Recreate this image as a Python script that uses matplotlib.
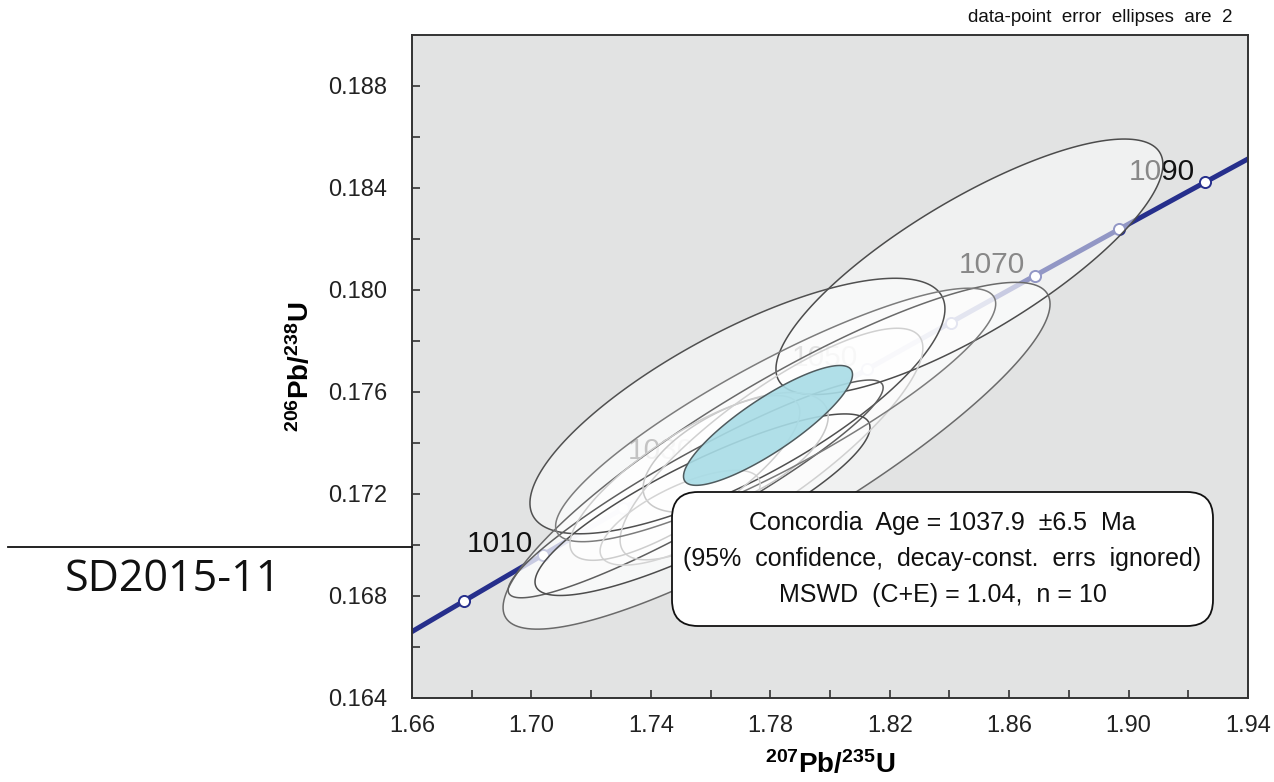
import numpy as np
import matplotlib
matplotlib.use('Agg')
import matplotlib.pyplot as plt
from matplotlib.patches import Polygon, FancyBboxPatch
from matplotlib.lines import Line2D

plt.rcParams['font.family'] = ['Liberation Sans', 'DejaVu Sans']
plt.rcParams['mathtext.fontset'] = 'custom'
plt.rcParams['mathtext.rm'] = 'Liberation Sans'
plt.rcParams['mathtext.bf'] = 'Liberation Sans:bold'

# U-Pb analyses: 207Pb/235U, 2s, 206Pb/238U, 2s, error correlation
pb207_u235 = [1.8467, 1.7690, 1.7821, 1.7550, 1.7573, 1.7684, 1.7804, 1.7818, 1.7498, 1.7514]
err207 = [0.0648, 0.0695, 0.0916, 0.0628, 0.0561, 0.0310, 0.0507, 0.0737, 0.0268, 0.0385]
pb206_u238 = [0.18091, 0.17545, 0.17350, 0.17220, 0.17158, 0.17363, 0.17396, 0.17510, 0.17107, 0.17263]
err206 = [0.00501, 0.00501, 0.00680, 0.00427, 0.00356, 0.00235, 0.00454, 0.00497, 0.00186, 0.00323]
rho = [0.80, 0.76, 0.875, 0.93, 0.85, 0.6, 0.83, 0.877, 0.7, 0.8]
edge_cols = ['#4c4c4c', '#505050', '#6a6a6a', '#5e5e5e', '#4c4c4c',
             '#c8c8c8', '#d0d0d0', '#7c7c7c', '#d4d4d4', '#cdcdcd']

# Concordia age ellipse
conc_age = 1037.9
conc_err = [0.0283, 0.00235]
conc_rho = 0.85

# Concordia curve
lam238 = 1.55125e-4   # per Ma
lam235 = 9.8485e-4
curve_ages = np.linspace(980, 1110, 300)
tick_ages = [1000, 1010, 1020, 1030, 1040, 1050, 1060, 1070, 1080, 1090]
label_ages = [1010, 1030, 1050, 1070, 1090]

info_lines = ['Concordia  Age = 1037.9  \u00b16.5  Ma',
              '(95%  confidence,  decay-const.  errs  ignored)',
              'MSWD  (C+E) = 1.04,  n = 10']


def concordia(t):
    t = np.asarray(t, dtype=float)
    return np.exp(lam235*t) - 1, np.exp(lam238*t) - 1


def ellipse_pts(x, sx, y, sy, r, n=200):
    cov = np.array([[sx*sx, r*sx*sy], [r*sx*sy, sy*sy]])
    L = np.linalg.cholesky(cov)
    t = np.linspace(0, 2*np.pi, n)
    pts = L @ np.vstack((np.cos(t), np.sin(t)))
    return np.column_stack((pts[0] + x, pts[1] + y))


fig = plt.figure(figsize=(12.74, 7.82), dpi=100)
ax = fig.add_axes([412/1274, 1 - 698/782, 836/1274, 663/782])
ax.set_facecolor('#e2e3e3')

# Concordia line, markers, age labels
cx, cy = concordia(curve_ages)
ax.plot(cx, cy, color='#262f8c', linewidth=3.6, zorder=1, solid_capstyle='butt')
tx, ty = concordia(tick_ages)
ax.plot(tx, ty, linestyle='none', marker='o', markersize=8, markerfacecolor='white',
        markeredgecolor='#262f8c', markeredgewidth=1.4, zorder=2)
for age in label_ages:
    lx, ly = concordia(age)
    ax.annotate(str(age), (lx, ly), xytext=(-7, 2), textcoords='offset points',
                ha='right', va='baseline', fontsize=21.5, color='#111111', zorder=2)

# Data-point error ellipses
for i in range(len(pb207_u235)):
    pts = ellipse_pts(pb207_u235[i], err207[i], pb206_u238[i], err206[i], rho[i])
    ax.add_patch(Polygon(pts, closed=True, facecolor='white', alpha=0.5,
                         edgecolor='none', zorder=3))
    ax.add_patch(Polygon(pts, closed=True, facecolor='none',
                         edgecolor=edge_cols[i], linewidth=1.1, zorder=3.5))

# Concordia age ellipse
ax_, ay_ = concordia(conc_age)
pts = ellipse_pts(ax_, conc_err[0], ay_, conc_err[1], conc_rho)
ax.add_patch(Polygon(pts, closed=True, facecolor='#a8dce6', alpha=0.9,
                     edgecolor='none', zorder=4))
ax.add_patch(Polygon(pts, closed=True, facecolor='none', edgecolor='#4f5b5e',
                     linewidth=1.1, zorder=4.1))

# Axes formatting
ax.set_xlim(1.66, 1.94)
ax.set_ylim(0.164, 0.190)
ax.set_xticks(np.arange(1.66, 1.9401, 0.04))
ax.set_xticks(np.arange(1.68, 1.94, 0.04), minor=True)
ax.set_yticks(np.arange(0.164, 0.1881, 0.004))
ax.set_yticks(np.arange(0.166, 0.190, 0.004), minor=True)
ax.set_xticklabels(['%.2f' % v for v in np.arange(1.66, 1.9401, 0.04)])
ax.set_yticklabels(['%.3f' % v for v in np.arange(0.164, 0.1881, 0.004)])
ax.tick_params(which='both', direction='in', length=6, width=1.2, color='#333333',
               labelsize=17, labelcolor='#222222')
ax.tick_params(axis='x', pad=12)
ax.tick_params(axis='y', pad=18)
for sp in ax.spines.values():
    sp.set_color('#333333')
    sp.set_linewidth(1.4)

ax.set_xlabel(r'$\mathbf{^{207}Pb/^{235}U}$', fontsize=20, labelpad=10)
ax.set_ylabel(r'$\mathbf{^{206}Pb/^{238}U}$', fontsize=20, labelpad=9)

# Result box
box = FancyBboxPatch((6.72, 1.56), 5.41, 1.34, boxstyle='round,pad=0,rounding_size=0.26',
                     transform=fig.dpi_scale_trans, facecolor='white',
                     edgecolor='#111111', linewidth=1.3, zorder=6)
fig.add_artist(box)
for k, line in enumerate(info_lines):
    fig.text(9.425/12.74, 1 - (523 + 36*k)/782, line, ha='center', va='center',
             fontsize=18, color='#111111', zorder=7)

# Header note, sample name, separator line
fig.text(1232/1274, 1 - 18/782, 'data-point  error  ellipses  are  2', ha='right',
         va='center', fontsize=13.5, color='#111111')
fig.text(173/1274, 1 - 580/782, 'SD2015-11', ha='center', va='center',
         fontsize=31, family=['Open Sans', 'DejaVu Sans'], color='#111111')
fig.add_artist(Line2D([8/1274, 412/1274], [1 - 547/782, 1 - 547/782],
                      color='#111111', linewidth=1.3))

fig.savefig('out.png', dpi=100)
